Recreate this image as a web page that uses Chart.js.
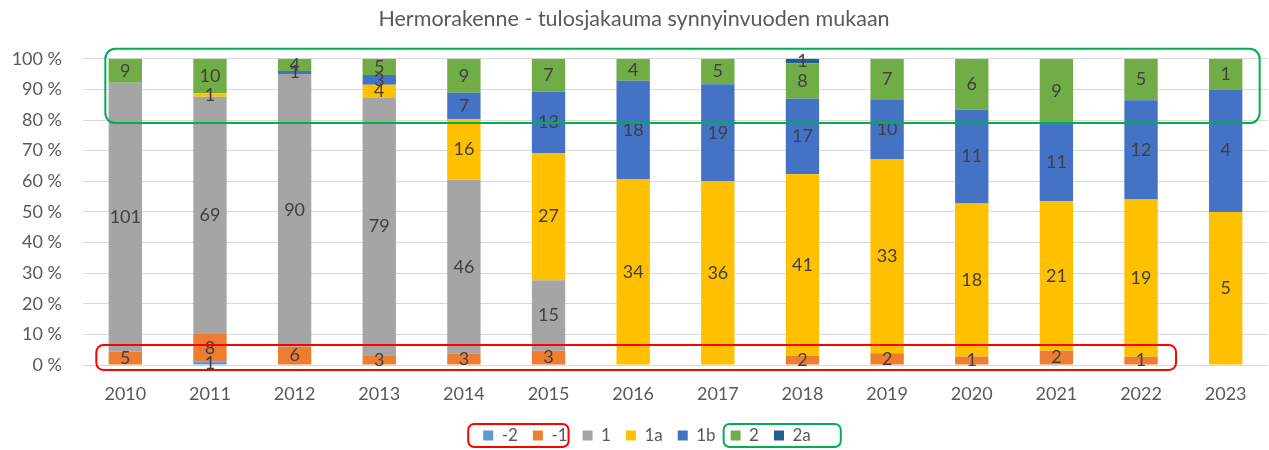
<!DOCTYPE html>
<html>
<head>
<meta charset="utf-8">
<script src="https://cdn.jsdelivr.net/npm/chart.js@4/dist/chart.umd.min.js"></script>
<style>
html,body{margin:0;padding:0;background:#fff;}
#wrap{width:1269px;height:450px;position:relative;}
</style>
</head>
<body>
<div id="wrap"><canvas id="c" width="1269" height="450"></canvas></div>
<script>
const years = ['2010','2011','2012','2013','2014','2015','2016','2017','2018','2019','2020','2021','2022','2023'];
const seriesNames = ['-2','-1','1','1a','1b','2','2a'];
const nMinus2 = [0,1,0,0,0,0,0,0,0,0,0,0,0,0];
const nMinus1 = [5,8,6,3,3,3,0,0,2,2,1,2,1,0];
const n1      = [101,69,90,79,46,15,0,0,0,0,0,0,0,0];
const n1a     = [0,1,0,4,16,27,34,36,41,33,18,21,19,5];
const n1b     = [0,0,1,3,7,13,18,19,17,10,11,11,12,4];
const n2      = [9,10,4,5,9,7,4,5,8,7,6,9,5,1];
const n2a     = [0,0,0,0,0,0,0,0,1,0,0,0,0,0];
const yTicks  = [0,10,20,30,40,50,60,70,80,90,100];
const colors  = ['#5B9BD5','#ED7D31','#A5A5A5','#FFC000','#4472C4','#70AD47','#255E91'];

const counts = [nMinus2,nMinus1,n1,n1a,n1b,n2,n2a];
const totals = years.map((_,i)=>counts.reduce((s,a)=>s+a[i],0));
const FONT = 'Lato, "Open Sans", sans-serif';

const datasets = counts.map((arr,k)=>({
  label: seriesNames[k],
  data: arr.map((v,i)=>v/totals[i]*100),
  counts: arr,
  backgroundColor: colors[k],
  borderWidth: 0,
  categoryPercentage: 1,
  barPercentage: 0.394
}));

function rrect(ctx,x,y,w,h,r){
  ctx.beginPath();
  ctx.moveTo(x+r,y);
  ctx.lineTo(x+w-r,y);ctx.arcTo(x+w,y,x+w,y+r,r);
  ctx.lineTo(x+w,y+h-r);ctx.arcTo(x+w,y+h,x+w-r,y+h,r);
  ctx.lineTo(x+r,y+h);ctx.arcTo(x,y+h,x,y+h-r,r);
  ctx.lineTo(x,y+r);ctx.arcTo(x,y,x+r,y,r);
  ctx.closePath();ctx.stroke();
}

const labelPlugin = {
  id:'labels',
  afterDatasetsDraw(chart){
    const ctx = chart.ctx;
    ctx.save();
    ctx.font = '18px ' + FONT;
    ctx.fillStyle = '#404040';
    ctx.textAlign = 'center';
    ctx.textBaseline = 'middle';
    chart.data.datasets.forEach((ds,k)=>{
      const meta = chart.getDatasetMeta(k);
      meta.data.forEach((el,i)=>{
        const c = ds.counts[i];
        if(!c) return;
        ctx.fillText(String(c), el.x, (el.y+el.base)/2);
      });
    });
    ctx.restore();
  }
};

const LEGEND_SHIFT = 13;
const shiftLegend = {
  id:'shiftLegend',
  afterUpdate(chart){
    const lg = chart.legend;
    if(!lg) return;
    lg.left += LEGEND_SHIFT; lg.right += LEGEND_SHIFT;
    (lg.legendHitBoxes||[]).forEach(h=>{h.left += LEGEND_SHIFT;});
  }
};

const boxPlugin = {
  id:'boxes',
  afterDraw(chart){
    const ctx = chart.ctx;
    const xs = chart.scales.x, ys = chart.scales.y;
    ctx.save();
    ctx.lineWidth = 2;
    ctx.strokeStyle = '#00B050';
    let l = xs.getPixelForValue(0)-20, r = xs.getPixelForValue(13)+34;
    let t = ys.getPixelForValue(100)-10, b = ys.getPixelForValue(79);
    rrect(ctx,l,t,r-l,b-t,10);
    ctx.strokeStyle = '#FF0000';
    l = xs.getPixelForValue(0)-29; r = xs.getPixelForValue(12)+35;
    t = ys.getPixelForValue(6.5); b = ys.getPixelForValue(-1.6);
    rrect(ctx,l,t,r-l,b-t,7);
    const hb = chart.legend.legendHitBoxes;
    if(hb && hb.length===7){
      const cy = hb[0].top + hb[0].height/2;
      const T = cy-11.5, B = cy+11.5;
      ctx.strokeStyle = '#FF0000';
      let L = hb[0].left-15, R = hb[1].left+hb[1].width+1;
      rrect(ctx,L,T,R-L,B-T,6);
      ctx.strokeStyle = '#00B050';
      L = hb[5].left-7; R = hb[6].left+hb[6].width+30;
      rrect(ctx,L,T,R-L,B-T,6);
    }
    ctx.restore();
  }
};

new Chart(document.getElementById('c'),{
  type:'bar',
  data:{labels:years,datasets:datasets},
  options:{
    responsive:false,
    animation:false,
    devicePixelRatio:1,
    layout:{padding:{left:0,right:1,top:0,bottom:-4}},
    plugins:{
      title:{display:true,text:'Hermorakenne - tulosjakauma synnyinvuoden mukaan',
        color:'#595959',font:{family:FONT,size:21.5,weight:'normal'},padding:{top:6,bottom:27}},
      legend:{position:'bottom',
        labels:{color:'#595959',font:{family:FONT,size:17},boxWidth:10,boxHeight:10,padding:15}},
      tooltip:{enabled:false}
    },
    scales:{
      x:{stacked:true,
        afterFit(s){s.height=47;},
        grid:{display:false,drawTicks:false},
        border:{display:false},
        ticks:{color:'#595959',font:{family:FONT,size:18},padding:18}
      },
      y:{stacked:true,min:0,max:100,
        afterFit(s){s.width=83;},
        afterBuildTicks(s){s.ticks = yTicks.map(v=>({value:v}));},
        grid:{color:'#D9D9D9',drawTicks:false,lineWidth:1},
        border:{display:false},
        ticks:{color:'#595959',font:{family:FONT,size:18},padding:21,callback:v=>v+' %'}
      }
    }
  },
  plugins:[shiftLegend,labelPlugin,boxPlugin]
});
</script>
</body>
</html>
